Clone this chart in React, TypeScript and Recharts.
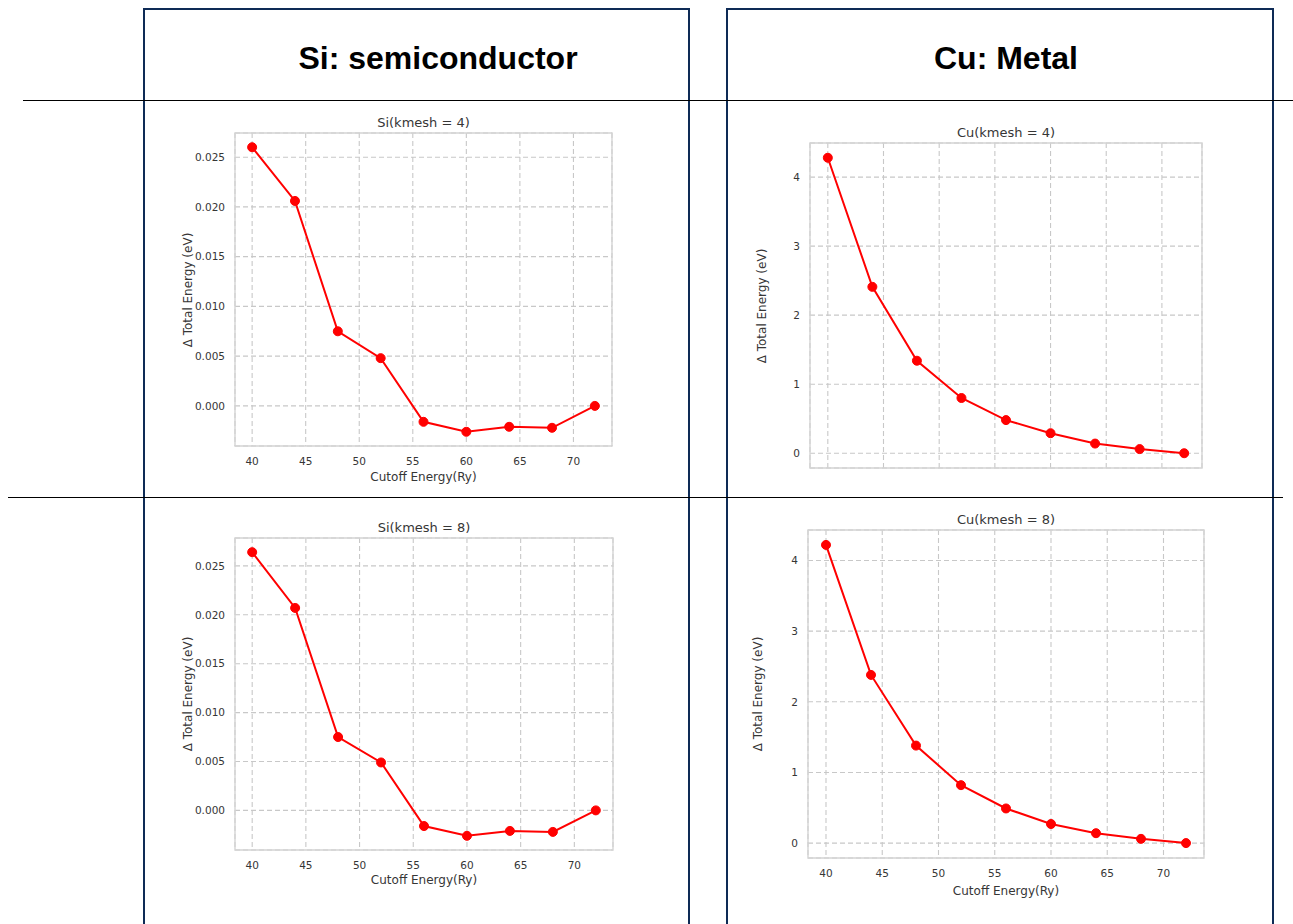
import React from 'react'
import { LineChart, Line, XAxis, YAxis, CartesianGrid, ReferenceArea } from 'recharts'

// cutoff energies (Ry) and energy differences (eV)
const cutoff = [40, 44, 48, 52, 56, 60, 64, 68, 72]
const siK4 = [0.026, 0.0206, 0.0075, 0.0048, -0.0016, -0.0026, -0.0021, -0.0022, 0]
const siK8 = [0.0264, 0.0207, 0.0075, 0.0049, -0.0016, -0.0026, -0.0021, -0.0022, 0]
const cuK4 = [4.28, 2.41, 1.34, 0.8, 0.48, 0.29, 0.14, 0.06, 0]
const cuK8 = [4.22, 2.38, 1.38, 0.82, 0.49, 0.27, 0.14, 0.06, 0]

const xTicks = [40, 45, 50, 55, 60, 65, 70]
const siTicks = [0, 0.005, 0.01, 0.015, 0.02, 0.025]
const cuTicks = [0, 1, 2, 3, 4]

const NAVY = '#0e2b56'
const TEXT = '#363636'
const FONT = '"DejaVu Sans", Verdana, sans-serif'

// matplotlib-style 5% margins
const pad = (lo: number, hi: number): [number, number] => {
    const m = (hi - lo) * 0.05
    return [lo - m, hi + m]
}

type PanelProps = {
    title: string
    values: number[]
    yTicks: number[]
    yFmt: (v: number) => string
    showX: boolean
    plot: { x: number; y: number; w: number; h: number }
    ylabelX: number
    xlabelY: number
}

const LEFT = 70
const TOP = 30
const RIGHT = 10
const BOTTOM = 40

function Caption({ x, y, text, size, rotate }: { x: number; y: number; text: string; size: number; rotate?: boolean }) {
    return (
        <div
            style={{
                position: 'absolute',
                left: x,
                top: y,
                transform: `translate(-50%, -50%)${rotate ? ' rotate(-90deg)' : ''}`,
                whiteSpace: 'nowrap',
                fontFamily: FONT,
                fontSize: size,
                color: TEXT,
                lineHeight: 1,
            }}
        >
            {text}
        </div>
    )
}

function Panel({ title, values, yTicks, yFmt, showX, plot, ylabelX, xlabelY }: PanelProps) {
    const data = cutoff.map((c, i) => ({ c, v: values[i] }))
    const xd = pad(Math.min(...cutoff), Math.max(...cutoff))
    const yd = pad(Math.min(...values), Math.max(...values))
    const cx = plot.x + plot.w / 2
    const tickStyle = { fontFamily: FONT, fontSize: 10.5, fill: TEXT }
    return (
        <>
            <div style={{ position: 'absolute', left: plot.x - LEFT, top: plot.y - TOP }}>
                <LineChart
                    width={plot.w + LEFT + RIGHT}
                    height={plot.h + TOP + BOTTOM}
                    data={data}
                    margin={{ top: TOP, right: RIGHT, bottom: 0, left: 0 }}
                >
                    <CartesianGrid stroke="#c8c8c8" strokeDasharray="5 3" strokeWidth={1.1} />
                    <XAxis
                        dataKey="c"
                        type="number"
                        domain={xd}
                        allowDataOverflow
                        ticks={xTicks}
                        height={BOTTOM}
                        axisLine={false}
                        tickLine={false}
                        tickSize={0}
                        tickMargin={12}
                        tick={tickStyle}
                        tickFormatter={(v: number) => (showX ? String(v) : '')}
                    />
                    <YAxis
                        type="number"
                        domain={yd}
                        allowDataOverflow
                        ticks={yTicks}
                        width={LEFT}
                        axisLine={false}
                        tickLine={false}
                        tickSize={0}
                        tickMargin={10}
                        tick={tickStyle}
                        tickFormatter={yFmt}
                    />
                    <ReferenceArea
                        x1={xd[0]}
                        x2={xd[1]}
                        y1={yd[0]}
                        y2={yd[1]}
                        fill="none"
                        fillOpacity={0}
                        stroke="#d4d4d4"
                        strokeWidth={1.4}
                        ifOverflow="visible"
                    />
                    <Line
                        dataKey="v"
                        stroke="#ff0000"
                        strokeWidth={2}
                        dot={{ r: 4.5, fill: '#ff0000', stroke: '#ff0000', strokeWidth: 1 }}
                        activeDot={false}
                        isAnimationActive={false}
                    />
                </LineChart>
            </div>
            <Caption x={cx} y={plot.y - 11.5} text={title} size={13} />
            <Caption x={ylabelX} y={plot.y + plot.h / 2} text="Δ Total Energy (eV)" size={12} rotate />
            {showX && <Caption x={cx} y={xlabelY} text="Cutoff Energy(Ry)" size={12} />}
        </>
    )
}

const siFmt = (v: number) => v.toFixed(3)
const cuFmt = (v: number) => String(v)

export default function App() {
    return (
        <div style={{ position: 'absolute', left: 0, top: 0, width: 1293, height: 924, background: '#fff', overflow: 'hidden' }}>
            {/* column boxes */}
            <div style={{ position: 'absolute', left: 143, top: 8, width: 547, height: 930, border: `2px solid ${NAVY}`, boxSizing: 'border-box' }} />
            <div style={{ position: 'absolute', left: 726, top: 8, width: 548, height: 930, border: `2px solid ${NAVY}`, boxSizing: 'border-box' }} />
            {/* row rules */}
            <div style={{ position: 'absolute', left: 23, top: 100, width: 1270, height: 1, background: '#000' }} />
            <div style={{ position: 'absolute', left: 8, top: 497, width: 1275, height: 1, background: '#000' }} />
            {/* column headers */}
            {[
                { x: 438, text: 'Si: semiconductor' },
                { x: 1006, text: 'Cu: Metal' },
            ].map((h) => (
                <div
                    key={h.text}
                    style={{
                        position: 'absolute',
                        left: h.x,
                        top: 58,
                        transform: 'translate(-50%, -50%)',
                        fontFamily: '"Liberation Sans", Arial, sans-serif',
                        fontWeight: 700,
                        fontSize: 32,
                        color: '#000',
                        whiteSpace: 'nowrap',
                        lineHeight: 1,
                    }}
                >
                    {h.text}
                </div>
            ))}
            <Panel
                title="Si(kmesh = 4)"
                values={siK4}
                yTicks={siTicks}
                yFmt={siFmt}
                showX
                plot={{ x: 235, y: 133, w: 377, h: 313 }}
                ylabelX={188}
                xlabelY={477}
            />
            <Panel
                title="Cu(kmesh = 4)"
                values={cuK4}
                yTicks={cuTicks}
                yFmt={cuFmt}
                showX={false}
                plot={{ x: 810, y: 143, w: 392, h: 325 }}
                ylabelX={762}
                xlabelY={0}
            />
            <Panel
                title="Si(kmesh = 8)"
                values={siK8}
                yTicks={siTicks}
                yFmt={siFmt}
                showX
                plot={{ x: 235, y: 538, w: 378, h: 312 }}
                ylabelX={188}
                xlabelY={880}
            />
            <Panel
                title="Cu(kmesh = 8)"
                values={cuK8}
                yTicks={cuTicks}
                yFmt={cuFmt}
                showX
                plot={{ x: 808, y: 530, w: 396, h: 328 }}
                ylabelX={758}
                xlabelY={891}
            />
        </div>
    )
}
